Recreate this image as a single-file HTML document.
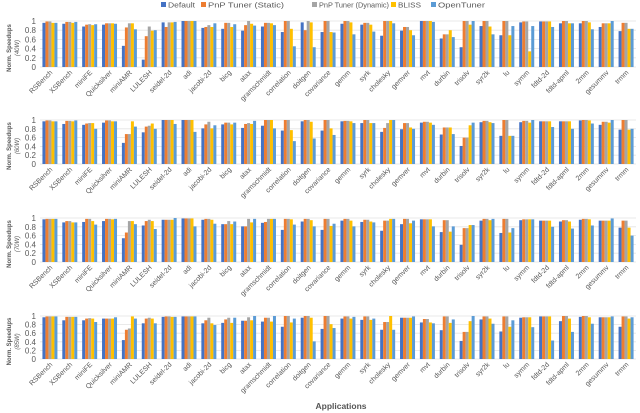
<!DOCTYPE html>
<html><head><meta charset="utf-8"><style>
html,body{margin:0;padding:0;background:#fff;}
svg{display:block;font-family:"Liberation Sans",sans-serif;}
</style></head><body>
<svg id="chart" width="640" height="413" viewBox="0 0 640 413" xmlns="http://www.w3.org/2000/svg">
<g id="legend"></g>
<g id="panels"></g>
<text x="341" y="409" text-anchor="middle" font-size="8.5" font-weight="bold" fill="#555">Applications</text>
</svg>
<script>
const categories = ["RSBench","XSBench","miniFE","Quicksilver","miniAMR","LULESH","seidel-2d","adi","jacobi-2d","bicg","atax","gramschmidt","correlation","doitgen","covariance","gemm","syrk","cholesky","gemver","mvt","durbin","trisolv","syr2k","lu","symm","fdtd-2d","fdtd-apml","2mm","gesummv","trmm"];
const seriesNames = ["Default","PnP Tuner (Static)","PnP Tuner (Dynamic)","BLISS","OpenTuner"];
const panelLabels = ["(40W)","(60W)","(70W)","(85W)"];
const yTicks = [0,0.2,0.4,0.6,0.8,1];
const p40 = [[0.96,0.99,0.99,0.96,0.96],[0.94,0.98,0.98,0.96,0.98],[0.88,0.92,0.93,0.91,0.93],[0.92,0.95,0.95,0.95,0.94],[0.46,0.86,0.95,0.95,0.82],[0.16,0.67,0.88,0.79,0.80],[0.97,0.87,0.97,0.97,0.98],[1,1,1,1,1],[0.85,0.87,0.91,0.87,0.95],[0.83,0.96,0.96,0.87,0.93],[0.79,0.91,1.0,0.94,0.90],[0.88,0.96,0.96,0.95,0.91],[0.76,1,1,0.83,0.45],[0.97,0.80,1,0.97,0.43],[0.76,1,1,0.76,0.75],[0.94,1,1,0.97,0.71],[0.92,0.96,0.96,0.92,0.77],[0.68,1,1,1,0.95],[0.79,0.87,0.87,0.80,0.69],[1,1,1,1,0.98],[0.62,0.71,0.71,0.80,0.65],[0.43,1,1,0.92,1],[0.89,1,1,0.88,0.71],[0.69,1,1,0.69,0.89],[0.97,0.99,0.99,0.34,0.89],[0.99,0.99,0.99,0.99,0.87],[0.95,1,1,0.95,0.95],[0.95,1,1,0.97,0.82],[0.87,0.95,0.95,0.95,1],[0.78,0.96,0.96,0.83,0.83]];
const p60 = [[0.97,0.99,0.99,0.97,0.97],[0.91,0.98,0.98,0.97,0.99],[0.89,0.92,0.93,0.93,0.80],[0.94,0.99,0.99,0.97,0.97],[0.48,0.68,0.68,0.97,0.85],[0.72,0.85,0.87,0.92,0.80],[1,1,1,1,0.91],[1,1,1,1,0.73],[0.81,0.90,0.96,0.81,0.88],[0.90,0.94,0.94,0.90,0.94],[0.82,0.91,0.93,0.91,0.98],[0.87,1,1,1,0.81],[0.76,1,1,0.77,0.52],[0.97,1,1,0.96,0.58],[0.76,1,1,0.81,0.66],[0.97,0.98,0.98,0.97,0.93],[0.93,1,1,0.93,0.93],[0.73,0.82,0.93,1,1],[0.79,0.93,0.93,0.83,0.80],[0.94,0.96,0.96,0.94,0.89],[0.67,0.83,0.83,0.83,0.68],[0.41,0.60,0.60,0.88,0.94],[0.95,0.98,0.98,0.95,0.93],[0.64,1,1,0.64,0.64],[0.95,0.98,0.98,0.94,1],[0.97,0.97,0.97,0.97,0.84],[0.97,0.97,0.97,0.97,0.80],[0.99,1,1,0.99,0.92],[0.89,0.96,0.96,0.94,1],[0.78,1,1,0.78,0.80]];
const p70 = [[0.97,0.98,0.98,0.98,0.98],[0.90,0.93,0.93,0.90,0.90],[0.91,0.98,0.98,0.93,0.85],[0.93,0.98,0.98,0.97,0.98],[0.54,0.67,0.93,0.93,0.86],[0.83,0.93,0.96,0.93,0.75],[0.96,0.96,0.96,0.96,1],[0.99,0.99,0.99,0.99,0.81],[0.96,0.98,0.98,0.96,0.87],[0.86,0.86,0.93,0.86,0.92],[0.81,0.81,0.98,0.90,0.98],[0.89,0.91,0.98,0.98,0.98],[0.73,0.98,0.98,0.97,0.85],[0.92,0.98,0.98,0.95,0.81],[0.73,0.98,0.98,0.82,0.87],[0.94,0.98,0.98,0.94,0.81],[0.91,0.96,0.96,0.92,0.90],[0.71,0.94,0.94,0.98,0.98],[0.86,0.98,0.98,0.88,0.94],[0.97,0.97,0.97,0.97,0.81],[0.68,0.95,0.95,0.69,0.81],[0.39,0.77,0.77,0.84,0.84],[0.94,0.98,0.98,0.95,0.98],[0.66,0.98,0.98,0.67,0.77],[0.95,0.97,0.97,0.97,0.97],[0.94,0.94,0.94,0.94,0.80],[0.92,0.95,0.95,0.92,0.76],[0.96,0.98,0.98,0.97,0.83],[0.94,0.94,0.94,0.94,0.99],[0.78,0.94,0.94,0.78,0.60]];
const p85 = [[0.97,0.99,0.99,0.99,0.99],[0.90,0.98,0.98,0.98,0.98],[0.90,0.94,0.95,0.94,0.86],[0.94,0.94,0.94,0.94,0.97],[0.44,0.68,0.71,0.99,0.94],[0.83,0.94,0.96,0.94,0.83],[0.98,0.99,0.99,0.98,0.98],[0.99,0.99,0.99,0.99,0.99],[0.83,0.90,0.96,0.83,0.79],[0.84,0.92,0.96,0.84,0.96],[0.89,0.89,0.97,0.90,1.0],[0.87,0.96,0.96,0.87,1.0],[0.75,1,1,0.85,0.94],[0.96,1,1,0.96,0.41],[0.70,1,1,0.81,0.72],[0.94,0.99,0.99,0.94,0.98],[0.91,0.99,0.99,0.91,0.94],[0.68,0.86,0.86,1,0.68],[0.96,0.96,0.96,0.96,0.99],[0.85,0.93,0.93,0.85,0.83],[0.67,0.99,0.99,0.84,0.92],[0.42,0.63,0.63,0.88,1.0],[0.92,0.99,0.99,0.94,0.82],[0.64,0.99,0.99,0.75,0.90],[0.96,0.97,0.97,0.97,0.74],[0.99,0.99,0.99,0.99,0.43],[0.88,1,1,0.94,0.63],[0.98,1,1,0.97,0.82],[0.97,0.97,0.97,0.97,0.99],[0.75,0.99,0.99,0.94,0.97]];

const panelData = [p40,p60,p70,p85];
const colors = ["#4472C4","#ED7D31","#A5A5A5","#FFC000","#5B9BD5"];
const NS = "http://www.w3.org/2000/svg";
function mk(tag, attrs, parent){const e=document.createElementNS(NS,tag);for(const k in attrs)e.setAttribute(k,attrs[k]);parent.appendChild(e);return e;}

const leg = document.getElementById('legend');
const legX = [161,201,312,391,431];
const legW = [27,76,70,23,47];
seriesNames.forEach((n,i)=>{
  const g = mk('g',{},leg);
  
  
  mk('rect',{x:legX[i],y:2,width:5,height:5,fill:colors[i]},g);
  const t = mk('text',{x:legX[i]+7,y:7.5,'font-size':7.5,fill:'#595959',textLength:legW[i],lengthAdjust:'spacingAndGlyphs'},g);
  t.textContent = n;
});

const panels = document.getElementById('panels');
const px0 = 40, px1 = 636;
const panelY = [[21,67],[120,164],[218,262],[316,359]];
const gw = (px1-px0)/categories.length;
const bw = 3;
function xScale(i){return px0 + gw*i + gw/2;}
panelData.forEach((data,p)=>{
  const [yTop,yBot] = panelY[p];
  const yS = v => yBot - v*(yBot-yTop);
  const g = mk('g',{},panels);
  
  
  yTicks.forEach(t=>{
    const gl = mk('line',{x1:px0,x2:px1,y1:yS(t),y2:yS(t),stroke:'#e3e3e3','stroke-width':0.8},g);
    
    
    const tl = mk('text',{x:px0-4,y:yS(t)+3,'text-anchor':'end','font-size':8,fill:'#595959'},g);
    
    
    tl.textContent = String(t);
  });
  const yt = mk('text',{transform:`translate(11,${(yTop+yBot)/2+4}) rotate(-90)`,'text-anchor':'middle','font-size':6,fill:'#595959','font-weight':'bold'},g);
  
  
  yt.textContent = 'Norm. Speedups';
  const yt2 = mk('text',{transform:`translate(19,${(yTop+yBot)/2+4}) rotate(-90)`,'text-anchor':'middle','font-size':6,fill:'#595959','font-style':'italic'},g);
  
  
  yt2.textContent = panelLabels[p];
  categories.forEach((c,i)=>{
    const cx = xScale(i);
    data[i].forEach((v,s)=>{
      const r = mk('rect',{x:cx-2.5*bw+s*bw,y:yS(v),width:bw,height:yBot-yS(v),fill:colors[s]},g);
      
      
    });
    const lx = cx+3, ly = yBot+6;
    const lt = mk('text',{transform:`translate(${lx},${ly}) rotate(-45)`,'text-anchor':'end','font-size':7,fill:'#595959'},g);
    
    
    lt.textContent = c;
  });
});
</script>
</body></html>
